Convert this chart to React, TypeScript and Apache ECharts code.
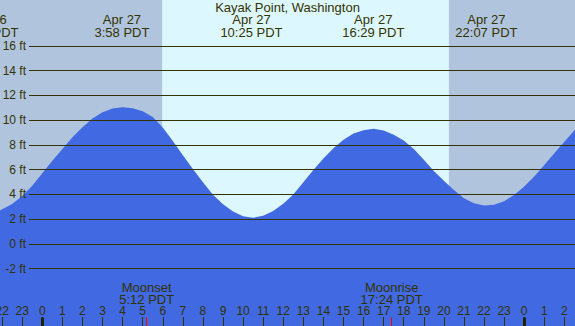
import React, { useEffect, useRef } from "react";
import * as echarts from "echarts";

const stationTitle = "Kayak Point, Washington";

// Time axis: hours since midnight, Apr 27 (PDT); heights in feet
const tideHours = [
  -2.11, -2, -1.5, -1, -0.5, 0, 0.5, 1, 1.5, 2, 2.5, 3, 3.5, 4, 4.5, 5, 5.5, 6, 6.5, 7, 7.5, 8, 8.5, 9, 9.5, 10, 10.5,
  11, 11.5, 12, 12.5, 13, 13.5, 14, 14.5, 15, 15.5, 16, 16.5, 17, 17.5, 18, 18.5, 19, 19.5, 20, 20.5, 21, 21.5, 22,
  22.5, 23, 23.5, 24, 24.5, 25, 25.5, 26, 26.55,
];
const tideFeet = [
  2.69, 2.78, 3.22, 3.85, 4.68, 5.7, 6.7, 7.65, 8.6, 9.42, 10.12, 10.62, 10.93, 11.03, 10.95, 10.7, 10.25, 9.4, 8.3,
  7.15, 6.05, 4.98, 3.95, 3.2, 2.6, 2.22, 2.1, 2.26, 2.65, 3.24, 3.99, 4.98, 5.95, 6.88, 7.72, 8.4, 8.9, 9.18, 9.29,
  9.16, 8.8, 8.35, 7.65, 6.78, 5.88, 5.1, 4.35, 3.68, 3.27, 3.1, 3.16, 3.44, 3.94, 4.62, 5.44, 6.36, 7.31, 8.25, 9.25,
];

const extremeHours = [-2.73, 3.967, 10.417, 16.483, 22.117];
const extremeLabels = ["Apr 26\n21:16 PDT", "Apr 27\n3:58 PDT", "Apr 27\n10:25 PDT", "Apr 27\n16:29 PDT", "Apr 27\n22:07 PDT"];

const sunriseHour = 5.967;
const sunsetHour = 20.25;

const moonHours = [5.2, 17.4];
const moonLabels = ["Moonset\n5:12 PDT", "Moonrise\n17:24 PDT"];

const hourTicks = [-2, -1, 0, 1, 2, 3, 4, 5, 6, 7, 8, 9, 10, 11, 12, 13, 14, 15, 16, 17, 18, 19, 20, 21, 22, 23, 24, 25, 26];
const midnightHours = [0, 24];

const viewStart = -2.107;
const viewEnd = 26.53;
const feetMin = -2;
const feetMax = 16;
const feetStep = 2;
const fullFeetMin = -6.646;
const fullFeetMax = 19.697;

const textColor = "#333300";
const nightColor = "#b0c4de";
const dayColor = "#ddf7ff";
const waterColor = "#4169e1";
const fontFamily = "Liberation Sans";

export default function App() {
  const ref = useRef<HTMLDivElement>(null);
  useEffect(() => {
    if (!ref.current) return;
    const chart = echarts.init(ref.current, null, { renderer: "svg" });
    const hourFmt = (v: number) => String(((Math.round(v) % 24) + 24) % 24);
    const moonFmt = (v: number) => {
      const i = moonHours.findIndex((m) => Math.abs(m - v) < 1e-6);
      return i >= 0 ? moonLabels[i] : "";
    };
    const timeAxisBase = {
      gridIndex: 0,
      type: "value",
      min: viewStart,
      max: viewEnd,
      position: "bottom",
      axisLine: { show: false, onZero: false },
      splitLine: { show: false },
    };
    chart.setOption({
      animation: false,
      backgroundColor: nightColor,
      title: {
        text: stationTitle,
        left: "center",
        top: 1,
        padding: 0,
        textStyle: { color: textColor, fontSize: 13, fontWeight: "normal", fontFamily, lineHeight: 13 },
      },
      grid: [
        { left: 0, right: 0, top: 0, bottom: 0, outerBoundsMode: "none", containLabel: false },
        { left: 29, right: 0, top: 45.75, bottom: 57.5, outerBoundsMode: "none", containLabel: false },
      ],
      xAxis: [
        {
          ...timeAxisBase,
          z: 10,
          axisTick: { show: true, inside: true, length: 9, customValues: hourTicks, lineStyle: { color: textColor, width: 1 } },
          axisLabel: {
            show: true,
            inside: true,
            margin: 10,
            customValues: hourTicks,
            formatter: hourFmt,
            color: textColor,
            fontSize: 12,
            fontFamily,
            lineHeight: 10,
          },
        },
        {
          ...timeAxisBase,
          z: 11,
          axisTick: { show: true, inside: true, length: 8.5, customValues: midnightHours, lineStyle: { color: "#222200", width: 3 } },
          axisLabel: { show: false },
        },
        {
          ...timeAxisBase,
          z: 11,
          axisTick: { show: true, inside: true, length: 8.5, customValues: moonHours, lineStyle: { color: "#ff0000", width: 1 } },
          axisLabel: {
            show: true,
            inside: true,
            margin: 20.65,
            customValues: moonHours,
            formatter: moonFmt,
            color: textColor,
            fontSize: 13,
            fontFamily,
            lineHeight: 11.7,
          },
        },
        { gridIndex: 1, type: "value", min: 0, max: 1, show: false, axisLine: { onZero: false } },
      ],
      yAxis: [
        { gridIndex: 0, type: "value", min: fullFeetMin, max: fullFeetMax, show: false, axisLine: { onZero: false } },
        {
          gridIndex: 1,
          type: "value",
          min: feetMin,
          max: feetMax,
          interval: feetStep,
          z: 10,
          axisLine: { show: false, onZero: false },
          axisTick: { show: false },
          splitLine: { show: true, lineStyle: { color: textColor, width: 1 } },
          axisLabel: { formatter: "{value} ft", margin: 3, color: textColor, fontSize: 12, fontFamily },
        },
      ],
      series: [
        {
          type: "line",
          xAxisIndex: 0,
          yAxisIndex: 0,
          data: [],
          z: 1,
          silent: true,
          markArea: {
            silent: true,
            itemStyle: { color: dayColor, opacity: 1 },
            data: [[{ xAxis: sunriseHour }, { xAxis: sunsetHour }]],
          },
        },
        {
          type: "line",
          xAxisIndex: 0,
          yAxisIndex: 0,
          data: tideHours.map((h, i) => [h, tideFeet[i]]),
          smooth: false,
          symbol: "none",
          z: 2,
          silent: true,
          lineStyle: { width: 0 },
          areaStyle: { color: waterColor, opacity: 1, origin: "start" },
        },
      ],
    });
    const px = extremeHours.map((h) => chart.convertToPixel({ xAxisIndex: 0 }, h) as number);
    chart.setOption({
      graphic: extremeHours.map((h, i) => ({
        type: "text",
        x: px[i],
        y: 25.75,
        z: 100,
        silent: true,
        style: {
          text: extremeLabels[i],
          fill: textColor,
          fontSize: 13,
          fontFamily,
          align: "center",
          verticalAlign: "middle",
          lineHeight: 12.5,
        },
      })),
    });
    return () => chart.dispose();
  }, []);
  return <div ref={ref} style={{ position: "absolute", left: 0, top: 0, width: 575, height: 326 }} />;
}
